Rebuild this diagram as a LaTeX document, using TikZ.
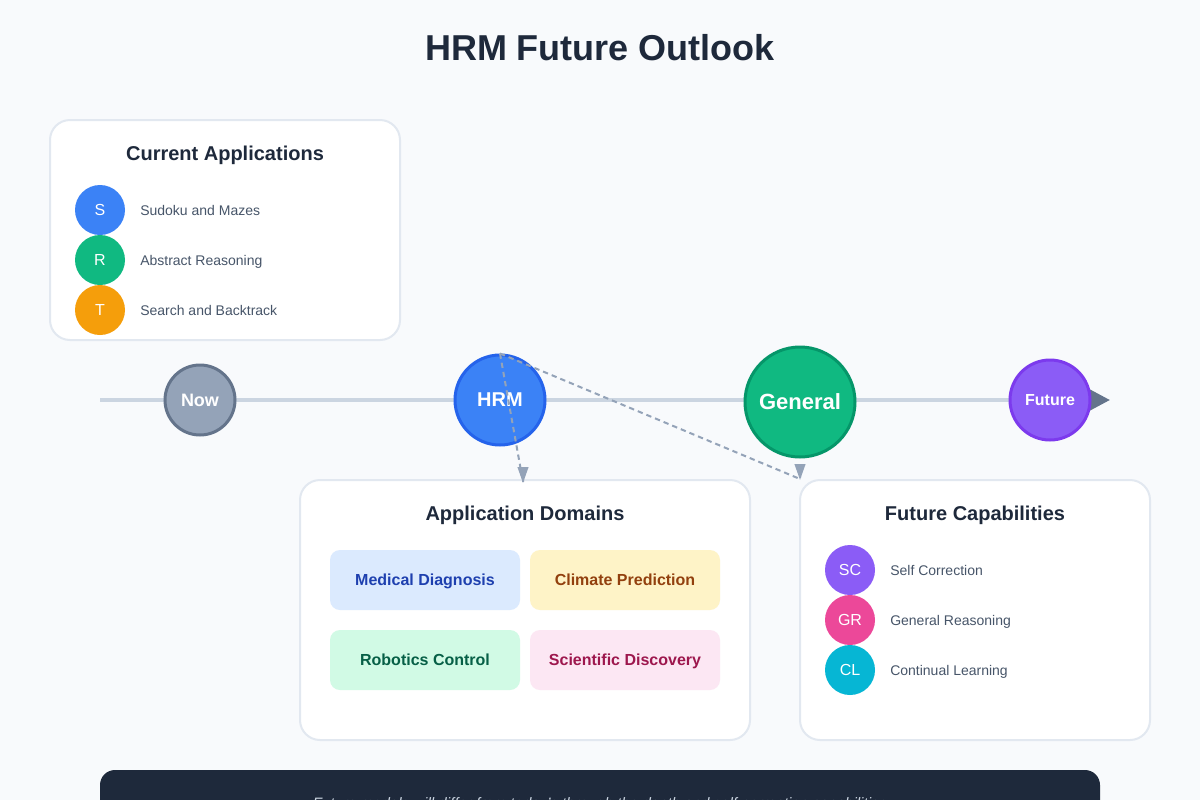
\documentclass[tikz,border=0pt]{standalone}
\usepackage{fontspec}
\setmainfont{Liberation Sans}
\usepackage{xcolor}
\usetikzlibrary{arrows.meta,positioning,calc}
\definecolor{pagebg}{HTML}{F8FAFC}
\definecolor{ink}{HTML}{1E293B}
\definecolor{slatetext}{HTML}{475569}
\definecolor{panelline}{HTML}{E2E8F0}
\definecolor{trackline}{HTML}{CBD5E1}
\definecolor{trackhead}{HTML}{64748B}
\definecolor{linkgray}{HTML}{94A3B8}
\definecolor{appblue}{HTML}{3B82F6}
\definecolor{appbluedk}{HTML}{2563EB}
\definecolor{appgreen}{HTML}{10B981}
\definecolor{appgreendk}{HTML}{059669}
\definecolor{appamber}{HTML}{F59E0B}
\definecolor{nowgray}{HTML}{94A3B8}
\definecolor{nowgraydk}{HTML}{64748B}
\definecolor{futpurple}{HTML}{8B5CF6}
\definecolor{futpurpledk}{HTML}{7C3AED}
\definecolor{futpink}{HTML}{EC4899}
\definecolor{futcyan}{HTML}{06B6D4}
\definecolor{medfill}{HTML}{DBEAFE}\definecolor{medtext}{HTML}{1E40AF}
\definecolor{climfill}{HTML}{FEF3C7}\definecolor{climtext}{HTML}{92400E}
\definecolor{robfill}{HTML}{D1FAE5}\definecolor{robtext}{HTML}{065F46}
\definecolor{scifill}{HTML}{FCE7F3}\definecolor{scitext}{HTML}{9D174D}
\definecolor{notetext}{HTML}{CBD5E1}

\begin{document}
\begin{tikzpicture}[x=0.75pt,y=-0.75pt,
  panel/.style={draw=panelline,line width=1.5pt,fill=white,rounded corners=15pt,inner sep=0pt},
  paneltitle/.style={anchor=base,inner sep=0pt,text=ink,font=\fontsize{15}{18}\selectfont\bfseries},
  dot/.style={circle,minimum size=37.5pt,inner sep=0pt,text=white,font=\fontsize{12}{14}\selectfont},
  item/.style={anchor=base west,inner sep=0pt,text=slatetext,font=\fontsize{10.5}{12}\selectfont},
  stage/.style={circle,line width=2.25pt,inner sep=0pt,text=white},
  chip/.style={rounded corners=7.5pt,minimum width=142.5pt,minimum height=45pt,inner sep=0pt,
    text height=8.5pt,text depth=0pt,font=\fontsize{12}{14}\selectfont\bfseries},
  link/.style={linkgray,line width=1.5pt,dash pattern=on 4pt off 3pt,-{Triangle[length=12pt,width=8pt]}}]
\useasboundingbox (0,0) rectangle (1200,800);
\fill[pagebg] (0,0) rectangle (1200,800);

\node[text=ink,font=\fontsize{27}{32}\selectfont\bfseries] (title) at (600,48) {HRM Future Outlook};

% current applications
\node[panel,minimum width=262.5pt,minimum height=165pt] (curpanel) at (225,230) {};
\node[paneltitle] (curtitle) at (225,160) {Current Applications};
\foreach \lt/\col/\txt [count=\i] in {S/appblue/Sudoku and Mazes,R/appgreen/Abstract Reasoning,T/appamber/Search and Backtrack}{
  \node[dot,fill=\col] (cur\i) at (100,{160+50*\i}) {\lt};
  \node[item] (curlabel\i) at (140,{165+50*\i}) {\txt};
}

% timeline
\coordinate (trackstart) at (100,400);
\coordinate (trackend) at (1110,400);
\draw[trackline,line width=3pt,-{Triangle[length=15pt,width=15pt,color=trackhead]}] (trackstart) -- (trackend);
\node[stage,fill=nowgray,draw=nowgraydk,minimum size=52.5pt,font=\fontsize{13.5}{16}\selectfont\bfseries] (now) at (200,400) {Now};
\node[stage,fill=appblue,draw=appbluedk,minimum size=67.5pt,font=\fontsize{15}{18}\selectfont\bfseries] (hrm) at (500,400) {HRM};
\node[stage,fill=appgreen,draw=appgreendk,minimum size=82.5pt,font=\fontsize{16.5}{20}\selectfont\bfseries] (general) at (800,402) {General};
\node[stage,fill=futpurple,draw=futpurpledk,minimum size=60pt,font=\fontsize{12}{14}\selectfont\bfseries] (future) at (1050,400) {Future};

% application domains
\node[panel,minimum width=337.5pt,minimum height=195pt] (dompanel) at (525,610) {};
\node[paneltitle] (domtitle) at (525,520) {Application Domains};
\node[chip,fill=medfill,text=medtext] (medical) at (425,580) {Medical Diagnosis};
\node[chip,fill=climfill,text=climtext] (climate) at (625,580) {Climate Prediction};
\node[chip,fill=robfill,text=robtext] (robotics) at (425,660) {Robotics Control};
\node[chip,fill=scifill,text=scitext] (science) at (625,660) {Scientific Discovery};

% future capabilities
\node[panel,minimum width=262.5pt,minimum height=195pt] (cappanel) at (975,610) {};
\node[paneltitle] (captitle) at (975,520) {Future Capabilities};
\foreach \lt/\col/\txt [count=\i] in {SC/futpurple/Self Correction,GR/futpink/General Reasoning,CL/futcyan/Continual Learning}{
  \node[dot,fill=\col] (cap\i) at (850,{520+50*\i}) {\lt};
  \node[item] (caplabel\i) at (890,{525+50*\i}) {\txt};
}

% links from HRM
\coordinate (domtip) at (523,482);
\coordinate (captip) at (800,479);
\draw[link] (hrm.north) -- (domtip) -- ++(0,1);
\draw[link] (hrm.north) -- (captip) -- ++(0,1);

% bottom note
\node[fill=ink,rounded corners=11.25pt,minimum width=750pt,minimum height=60pt] (note) at (600,810) {};
\node[anchor=base,inner sep=0pt,text=notetext,font=\fontsize{11.3}{13}\selectfont\itshape] (notetext) at (600,808)
  {Future models will differ from today's through the depth and self-correction capabilities};
\end{tikzpicture}
\end{document}
